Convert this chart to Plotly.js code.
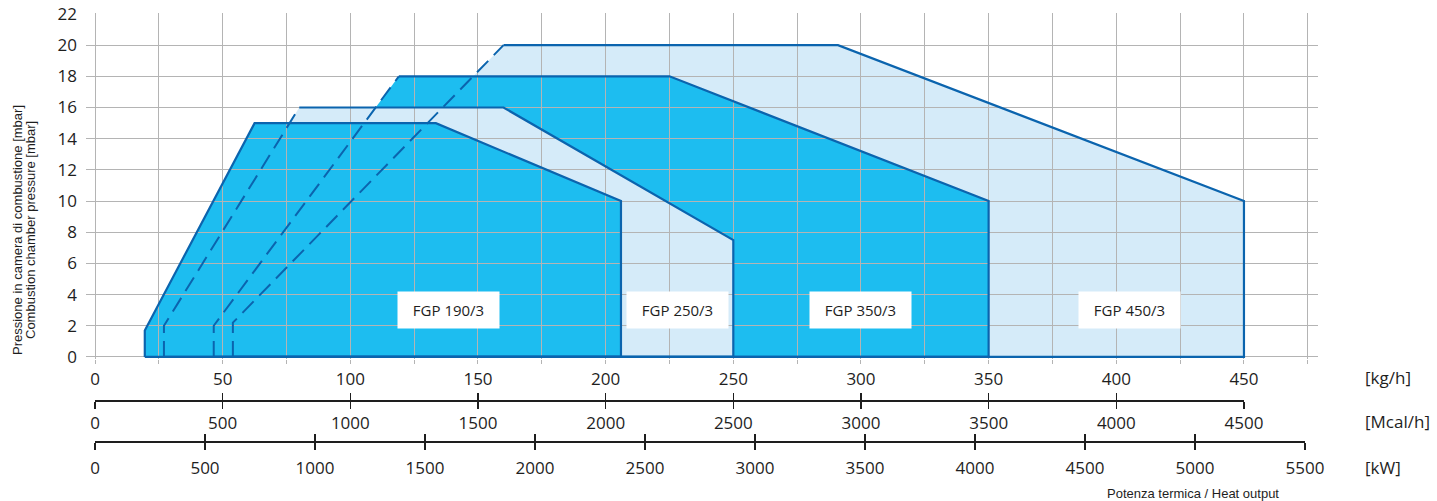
<!DOCTYPE html>
<html>
<head>
<meta charset="utf-8">
<script src="https://cdn.plot.ly/plotly-3.0.1.min.js"></script>
<style>html,body{margin:0;padding:0;background:#fff;}#chart{width:1437px;height:501px;}</style>
</head>
<body>
<div id="chart"></div>
<script>
// ---- data (kg/h vs mbar), polygon corners: bottom-left, left knee, top-left, top-right, right knee, bottom-right
const models = ['FGP 190/3', 'FGP 250/3', 'FGP 350/3', 'FGP 450/3'];
const fgp190Kg   = [19.5, 19.5, 62.5, 133.5, 206, 206];
const fgp190Mbar = [0, 1.7, 15, 15, 10, 0];
const fgp250Kg   = [27, 27, 80, 160, 250, 250];
const fgp250Mbar = [0, 2, 16, 16, 7.5, 0];
const fgp350Kg   = [46.5, 46.5, 119, 225, 350, 350];
const fgp350Mbar = [0, 2, 18, 18, 10, 0];
const fgp450Kg   = [54, 54, 160, 291, 450, 450];
const fgp450Mbar = [0, 2.2, 20, 20, 10, 0];

const kgGrid      = [0,25,50,75,100,125,150,175,200,225,250,275,300,325,350,375,400,425,450,475];
const kgLabels    = [0,50,100,150,200,250,300,350,400,450];
const mcalLabels  = [0,500,1000,1500,2000,2500,3000,3500,4000,4500];
const kwLabels    = [0,500,1000,1500,2000,2500,3000,3500,4000,4500,5000,5500];
const mbarTicks   = [0,2,4,6,8,10,12,14,16,18,20,22];

// ---- styles
const CYAN = '#1dbdf0', LIGHT = '#d5ebf9', EDGE = '#0b64ae', GRID = '#b4b4b4', AXIS = '#1e1e1e';
const TICKFONT = {family: '"Open Sans", "Noto Sans", sans-serif', size: 17, color: '#1e1e1e'};
const ARIAL = {family: '"Liberation Sans", Arial, sans-serif', size: 13, color: '#1e1e1e'};

const polys = [
  {kg: fgp450Kg, mb: fgp450Mbar, fill: LIGHT, front: false},
  {kg: fgp350Kg, mb: fgp350Mbar, fill: CYAN,  front: false},
  {kg: fgp250Kg, mb: fgp250Mbar, fill: LIGHT, front: false},
  {kg: fgp190Kg, mb: fgp190Mbar, fill: CYAN,  front: true}
];

const traces = [];
// fills (subplot x/y, below gridlines)
polys.forEach(p => {
  traces.push({x: p.kg.concat([p.kg[0]]), y: p.mb.concat([p.mb[0]]), type: 'scatter', mode: 'lines',
    fill: 'toself', fillcolor: p.fill, line: {width: 0, color: p.fill}, xaxis: 'x', yaxis: 'y',
    hoverinfo: 'skip', showlegend: false});
});
// outlines (subplot x2/y2, above gridlines)
polys.forEach(p => {
  const idx = p.front ? [0,1,2,3,4,5,0] : [2,3,4,5,0];
  traces.push({x: idx.map(i => p.kg[i]), y: idx.map(i => p.mb[i]), type: 'scatter', mode: 'lines',
    line: {width: 2.2, color: EDGE}, xaxis: 'x2', yaxis: 'y2', hoverinfo: 'skip', showlegend: false});
  if (!p.front) {
    const d = [0,1,2];
    traces.push({x: d.map(i => p.kg[i]), y: d.map(i => p.mb[i]), type: 'scatter', mode: 'lines',
      line: {width: 2, color: EDGE, dash: '16px,8px'}, xaxis: 'x2', yaxis: 'y2', hoverinfo: 'skip', showlegend: false});
  }
});
// dummy traces so the secondary scale axes are drawn
['x3','x4','x5','x6'].forEach(ax => traces.push({x: [], y: [], type: 'scatter', mode: 'lines', xaxis: ax, yaxis: 'y', hoverinfo: 'skip', showlegend: false}));

const XR = [-3.525, 479.0], YR = [-0.15, 22.05];
const YDOM = [0.2584, 0.9932];
const mcalDom = [0.0073, 0.93994], kwDom = [0.0073, 0.98945];
const mcalPos = 0.17197, kwPos = 0.08493;

function scaleAxis(dom, range, vals, pos, inside, standoff) {
  return {domain: dom, range: range, anchor: 'free', position: pos, side: 'bottom',
    tickmode: 'array', tickvals: vals, ticktext: vals.map(String),
    showticklabels: !inside, ticks: inside ? 'inside' : 'outside', ticklen: 7, tickwidth: 1.6, tickcolor: AXIS,
    showline: !inside, linecolor: AXIS, linewidth: 1.6, showgrid: false, zeroline: false,
    tickfont: TICKFONT, fixedrange: true, ticklabelstandoff: standoff};
}

const layout = {
  width: 1437, height: 501,
  margin: {l: 86, r: 119, t: 10, b: 20},
  paper_bgcolor: '#ffffff', plot_bgcolor: 'rgba(0,0,0,0)',
  showlegend: false,
  xaxis: {domain: [0, 1], range: XR, tickmode: 'array', tickvals: kgGrid,
    ticktext: kgGrid.map(v => kgLabels.includes(v) ? String(v) : ''),
    ticks: 'outside', ticklen: 4, tickcolor: GRID, tickwidth: 1,
    showgrid: false, zeroline: false, showline: false, tickfont: TICKFONT, fixedrange: true, anchor: 'y'},
  yaxis: {domain: YDOM, range: YR, tickmode: 'array', tickvals: mbarTicks, ticktext: mbarTicks.map(String),
    ticks: '', showgrid: false, zeroline: false, showline: false, tickfont: TICKFONT, fixedrange: true,
    ticklabelstandoff: 8, anchor: 'x'},
  xaxis2: {domain: [0, 1], range: XR, anchor: 'y2', tickmode: 'array', tickvals: kgGrid, showticklabels: false,
    ticks: '', showgrid: true, gridcolor: GRID, gridwidth: 1, zeroline: false, showline: false, fixedrange: true},
  yaxis2: {domain: YDOM, range: YR, anchor: 'x2', tickmode: 'array', tickvals: mbarTicks, showticklabels: false,
    ticks: '', showgrid: true, gridcolor: GRID, gridwidth: 1, zeroline: false, showline: false, fixedrange: true},
  xaxis3: scaleAxis(mcalDom, [0, 4500], mcalLabels, mcalPos, false, 0),
  xaxis4: scaleAxis(mcalDom, [0, 4500], mcalLabels, mcalPos, true, 0),
  xaxis5: scaleAxis(kwDom, [0, 5500], kwLabels, kwPos, false, 4),
  xaxis6: scaleAxis(kwDom, [0, 5500], kwLabels, kwPos, true, 4),
  annotations: [
    {text: 'Pressione in camera di combustione [mbar]', xref: 'paper', yref: 'paper', x: 0, xshift: -69, y: 0.5329,
      textangle: -90, showarrow: false, xanchor: 'center', yanchor: 'middle', font: ARIAL},
    {text: 'Combustion chamber pressure [mbar]', xref: 'paper', yref: 'paper', x: 0, xshift: -56, y: 0.5329,
      textangle: -90, showarrow: false, xanchor: 'center', yanchor: 'middle', font: ARIAL},
    {text: '[kg/h]', xref: 'paper', yref: 'paper', x: 1, xshift: 45, y: 0.2187, xanchor: 'left', yanchor: 'middle', showarrow: false, font: TICKFONT},
    {text: '[Mcal/h]', xref: 'paper', yref: 'paper', x: 1, xshift: 45, y: 0.12527, xanchor: 'left', yanchor: 'middle', showarrow: false, font: TICKFONT},
    {text: '[kW]', xref: 'paper', yref: 'paper', x: 1, xshift: 45, y: 0.02972, xanchor: 'left', yanchor: 'middle', showarrow: false, font: TICKFONT},
    {text: 'Potenza termica / Heat output', xref: 'paper', yref: 'paper', x: 0.8985, y: -0.0255, xanchor: 'center', yanchor: 'middle', showarrow: false, font: ARIAL},
    {text: models[0], xref: 'x2', yref: 'y2', x: 138.5, y: 3},
    {text: models[1], xref: 'x2', yref: 'y2', x: 228, y: 3},
    {text: models[2], xref: 'x2', yref: 'y2', x: 300, y: 3},
    {text: models[3], xref: 'x2', yref: 'y2', x: 405, y: 3}
  ].map(a => a.xref === 'x2' ? Object.assign(a, {showarrow: false, bgcolor: '#ffffff', width: 99, height: 34,
      xanchor: 'center', yanchor: 'middle', font: {family: '"Open Sans", "Noto Sans", sans-serif', size: 15, color: '#1e1e1e'}}) : a)
};

Plotly.newPlot('chart', traces, layout, {staticPlot: true, displayModeBar: false});
</script>
</body>
</html>
